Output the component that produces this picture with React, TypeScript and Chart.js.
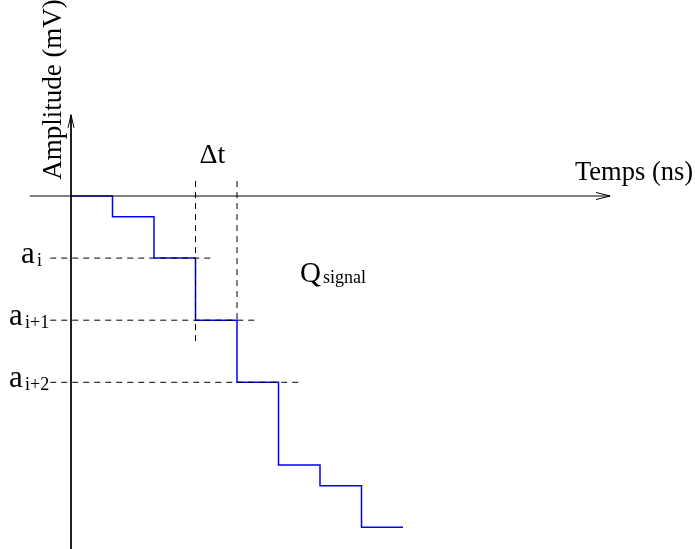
import React, { useEffect, useRef } from "react";
import { Chart, registerables } from "chart.js";

Chart.register(...registerables);

// Step signal (time in sample units, amplitude in arbitrary mV units)
const stepTimes = [0, 1, 2, 3, 4, 5, 6, 7, 8];
const stepAmplitudes = [0, -1, -3, -6, -9, -13, -14, -16, -16];

// Sample levels a_i, a_{i+1}, a_{i+2}
const sampleLevels = [-3, -6, -9];
const sampleSubscripts = ["i", "i+1", "i+2"];
const sampleDashStart = [-0.5, -0.5, -0.5];
const sampleDashEnd = [3.4, 4.46, 5.52];

// Δt markers (times) and their vertical extents
const deltaTimes = [3, 4];
const deltaTop = [0.72, 0.72];
const deltaBottom = [-7.05, -6];

// Axes extents
const xAxisRange = [-0.99, 12.99];
const yAxisRange = [3.92, -17.1];

const FONT = "'Liberation Serif', 'Times New Roman', serif";

const annotationPlugin = {
  id: "annotations",
  afterDatasetsDraw(chart: any) {
    const ctx = chart.ctx as CanvasRenderingContext2D;
    const xs = chart.scales.x;
    const ys = chart.scales.y;
    const px = (v: number) => xs.getPixelForValue(v);
    const py = (v: number) => ys.getPixelForValue(v);
    ctx.save();
    ctx.strokeStyle = "#000";
    ctx.lineWidth = 1;
    // x arrow head
    const xt = px(xAxisRange[1]);
    const y0 = py(0);
    ctx.beginPath();
    ctx.moveTo(xt - 14, y0 - 3.5);
    ctx.lineTo(xt, y0);
    ctx.lineTo(xt - 14, y0 + 3.5);
    ctx.stroke();
    // y arrow head
    const x0 = px(0);
    const yt = py(yAxisRange[0]);
    ctx.beginPath();
    ctx.moveTo(x0 - 3, yt + 13);
    ctx.lineTo(x0, yt);
    ctx.lineTo(x0 + 3, yt + 13);
    ctx.stroke();

    ctx.fillStyle = "#000";
    ctx.textBaseline = "alphabetic";
    // Axis titles
    ctx.font = `26.5px ${FONT}`;
    ctx.textAlign = "left";
    ctx.fillText("Temps (ns)", 575, y0 - 16);
    ctx.font = `27px ${FONT}`;
    ctx.save();
    ctx.translate(x0 - 10, yt + 65);
    ctx.rotate(-Math.PI / 2);
    ctx.fillText("Amplitude (mV)", 0, 0);
    ctx.restore();

    // Δt
    ctx.font = `28px ${FONT}`;
    ctx.textAlign = "left";
    ctx.fillText("\u0394t", px(deltaTimes[0]) + 4, y0 - 33);

    // Q signal
    ctx.font = `29px ${FONT}`;
    ctx.fillText("Q", 300, py(-4) + 3);
    ctx.font = `18px ${FONT}`;
    ctx.fillText("signal", 323, py(-4) + 4);

    // a labels
    sampleLevels.forEach((lv, i) => {
      const yy = py(lv);
      const sub = sampleSubscripts[i];
      const aLeft = sub.length === 1 ? 21 : 9;
      ctx.textAlign = "left";
      ctx.font = `31px ${FONT}`;
      ctx.fillText("a", aLeft, yy + 5);
      ctx.font = `18px ${FONT}`;
      ctx.fillText(sub, aLeft + 16, yy + 7.5);
    });
    ctx.restore();
  },
};

export default function App() {
  const ref = useRef<HTMLCanvasElement | null>(null);
  useEffect(() => {
    if (!ref.current) return;
    const dashed = { borderColor: "#000", borderWidth: 1, borderDash: [6, 5], pointRadius: 0, showLine: true, clip: false as any };
    const datasets: any[] = [];
    // axes
    datasets.push({
      data: [{ x: xAxisRange[0], y: 0 }, { x: xAxisRange[1], y: 0 }],
      borderColor: "#000", borderWidth: 1, pointRadius: 0, showLine: true, clip: false,
    });
    datasets.push({
      data: [{ x: 0, y: yAxisRange[0] }, { x: 0, y: yAxisRange[1] }],
      borderColor: "#000", borderWidth: 1, pointRadius: 0, showLine: true, clip: false,
    });
    sampleLevels.forEach((lv, i) => {
      datasets.push({ ...dashed, data: [{ x: sampleDashStart[i], y: lv }, { x: sampleDashEnd[i], y: lv }] });
    });
    deltaTimes.forEach((t, i) => {
      datasets.push({ ...dashed, data: [{ x: t, y: deltaTop[i] }, { x: t, y: deltaBottom[i] }] });
    });
    datasets.push({
      data: stepTimes.map((t, i) => ({ x: t, y: stepAmplitudes[i] })),
      borderColor: "#0000ff", borderWidth: 1.5, pointRadius: 0, showLine: true, stepped: "before", clip: false,
    });

    const chart = new Chart(ref.current, {
      type: "scatter",
      data: { datasets },
      options: {
        animation: false,
        responsive: false,
        devicePixelRatio: 1,
        layout: { padding: 0 },
        plugins: { legend: { display: false }, tooltip: { enabled: false } },
        scales: {
          x: { type: "linear", display: false, min: -71 / 41.5, max: 624 / 41.5 },
          y: { type: "linear", display: false, min: -353 / 20.7, max: 196 / 20.7 },
        },
      },
      plugins: [annotationPlugin],
    } as any);
    return () => chart.destroy();
  }, []);
  return (
    <div style={{ position: "absolute", left: 0, top: 0, width: 695, height: 549, background: "#fff" }}>
      <canvas ref={ref} width={695} height={549} style={{ display: "block" }} />
    </div>
  );
}
